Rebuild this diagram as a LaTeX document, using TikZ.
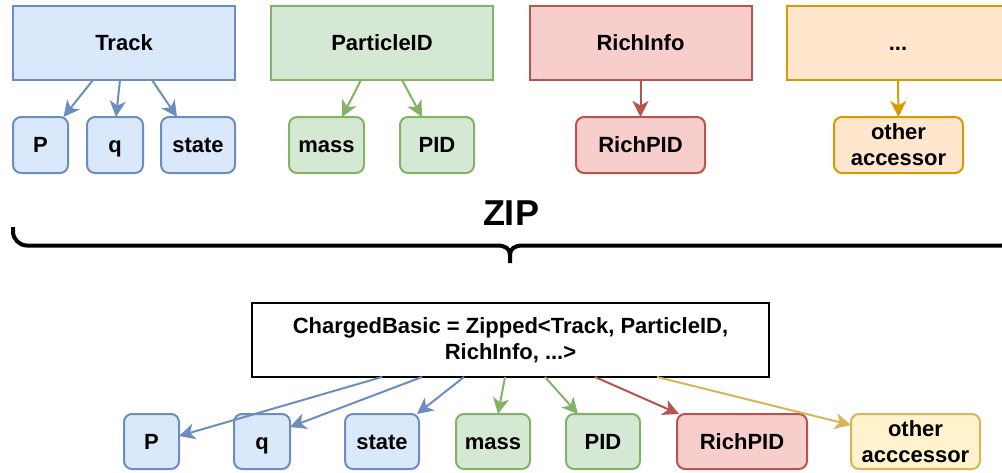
\documentclass[tikz,border=0pt]{standalone}
\usepackage{fontspec}
\setmainfont{Liberation Sans}
\usetikzlibrary{arrows.meta}
\definecolor{bfill}{HTML}{DAE8FC}\definecolor{bline}{HTML}{6C8EBF}
\definecolor{gfill}{HTML}{D5E8D4}\definecolor{gline}{HTML}{82B366}
\definecolor{rfill}{HTML}{F8CECC}\definecolor{rline}{HTML}{B85450}
\definecolor{ofill}{HTML}{FFE6CC}\definecolor{oline}{HTML}{D79B00}
\definecolor{yfill}{HTML}{FFF2CC}\definecolor{yline}{HTML}{D6B656}
\begin{document}
\begin{tikzpicture}[x=1pt,y=-1pt,
  base/.style={draw, line width=2pt, font=\bfseries\fontsize{22}{26}\selectfont, inner sep=0pt, outer sep=0pt, align=center},
  oneline/.style={text height=15.8pt, text depth=0pt},
  bigbox/.style={base, oneline, minimum width=222pt, minimum height=74pt},
  smallbox/.style={base, rounded corners=8pt, minimum height=56pt},
  cblue/.style={draw=bline, fill=bfill},
  cgreen/.style={draw=gline, fill=gfill},
  cred/.style={draw=rline, fill=rfill},
  corange/.style={draw=oline, fill=ofill},
  cyellow/.style={draw=yline, fill=yfill},
  arr/.style={-{Stealth[length=16pt,width=16pt,inset=4.5pt]}, line width=2pt}]
\useasboundingbox (0,0) rectangle (1002,472);
\clip (0,0) rectangle (1002,472);
% top row
\node[bigbox,cblue] (track) at (124,43) {Track};
\node[bigbox,cgreen] (pidb) at (382,43) {ParticleID};
\node[bigbox,cred] (rich) at (640.5,43) {RichInfo};
\node[bigbox,corange] (dots) at (898,43) {...};
\node[smallbox,oneline,cblue,minimum width=55pt] (tp) at (40.5,145) {P};
\node[smallbox,oneline,cblue,minimum width=56pt] (tq) at (115,145) {q};
\node[smallbox,oneline,cblue,minimum width=74pt] (tstate) at (198,145) {state};
\node[smallbox,oneline,cgreen,minimum width=75pt] (tmass) at (326.5,145) {mass};
\node[smallbox,oneline,cgreen,minimum width=74pt] (tpid) at (437,145) {PID};
\node[smallbox,oneline,cred,minimum width=129pt] (trich) at (640.5,145) {RichPID};
\node[smallbox,corange,minimum width=129pt] (tother) at (898.5,145) {other\\accessor};
\draw[arr,bline] ([xshift=-31pt]track.south) -- ([xshift=23pt]tp.north);
\draw[arr,bline] ([xshift=-4pt]track.south) -- ([xshift=1pt]tq.north);
\draw[arr,bline] ([xshift=28pt]track.south) -- ([xshift=-21pt]tstate.north);
\draw[arr,gline] ([xshift=-21pt]pidb.south) -- ([xshift=15.5pt]tmass.north);
\draw[arr,gline] ([xshift=20pt]pidb.south) -- ([xshift=-15pt]tpid.north);
\draw[arr,rline] (rich.south) -- (trich.north);
\draw[arr,oline] (dots.south) -- (tother.north);
% brace
\node[font=\bfseries\fontsize{36}{40}\selectfont, inner sep=0pt] (zip) at (511,213) {ZIP};
\draw[line width=4pt, rounded corners=14pt] (13,227) -- (13,245.5) -- (497,245.5);
\draw[line width=4pt] (497,245.5) .. controls (506,245.5) and (510,249) .. (510,255) -- (510,263);
\draw[line width=4pt] (523,245.5) .. controls (514,245.5) and (510,249) .. (510,255);
\draw[line width=4pt, rounded corners=14pt] (523,245.5) -- (1016,245.5) -- (1016,225);
% bottom
\node[base, fill=white, draw=black, minimum width=517pt, minimum height=74pt] (cb) at (510.5,340) {ChargedBasic = Zipped<Track, ParticleID,\\RichInfo, ...>};
\node[smallbox,oneline,cblue,minimum width=55pt,minimum height=55pt] (bp) at (151.5,441.5) {P};
\node[smallbox,oneline,cblue,minimum width=56pt,minimum height=55pt] (bq) at (262,441.5) {q};
\node[smallbox,oneline,cblue,minimum width=74pt,minimum height=55pt] (bstate) at (382,441.5) {state};
\node[smallbox,oneline,cgreen,minimum width=74pt,minimum height=55pt] (bmass) at (493,441.5) {mass};
\node[smallbox,oneline,cgreen,minimum width=74pt,minimum height=55pt] (bpid) at (603,441.5) {PID};
\node[smallbox,oneline,cred,minimum width=130pt,minimum height=55pt] (brich) at (742,441.5) {RichPID};
\node[smallbox,cyellow,minimum width=129pt,minimum height=55pt] (bother) at (915.5,441.5) {other\\acccessor};
\draw[arr,bline] ([xshift=-128.5pt]cb.south) -- ([yshift=5.5pt]bp.east);
\draw[arr,bline] ([xshift=-88.5pt]cb.south) -- ([yshift=14.5pt]bq.east);
\draw[arr,bline] ([xshift=-46.5pt]cb.south) -- ([xshift=-2pt]bstate.north east);
\draw[arr,gline] ([xshift=-5.5pt]cb.south) -- ([xshift=5pt]bmass.north);
\draw[arr,gline] ([xshift=34.5pt]cb.south) -- ([xshift=-25pt]bpid.north);
\draw[arr,rline] ([xshift=84.5pt]cb.south) -- ([xshift=2pt]brich.north west);
\draw[arr,yline] ([xshift=146.5pt]cb.south) -- ([yshift=16.5pt]bother.west);
\end{tikzpicture}
\end{document}
